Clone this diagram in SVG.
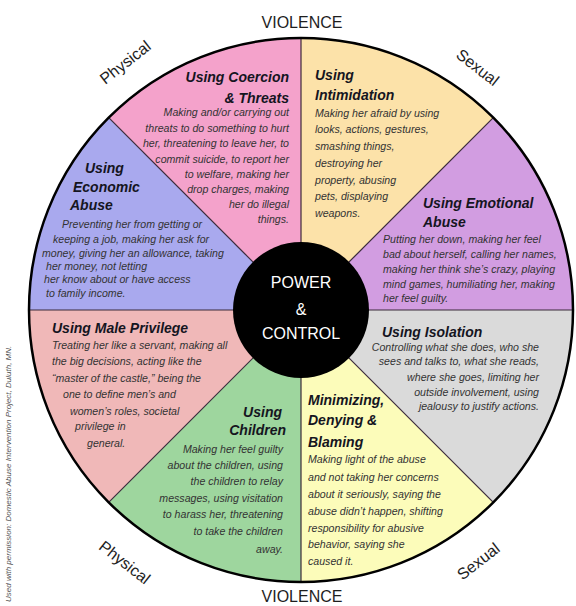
<svg xmlns="http://www.w3.org/2000/svg" width="576" height="606" viewBox="0 0 576 606">
<style>
.t{font-family:"Liberation Sans",Arial,sans-serif;font-size:14px;font-weight:bold;font-style:italic;fill:#15151f}
.b{font-family:"Liberation Sans",Arial,sans-serif;font-size:10.6px;font-style:italic;fill:#333}
.o{font-family:"Liberation Sans",Arial,sans-serif;font-size:16px;fill:#1e1e1e}
.c{font-family:"Liberation Sans",Arial,sans-serif;font-size:16px;fill:#fff;text-anchor:middle}
.e{text-anchor:end}
.div{stroke:#3b2b3b;stroke-width:1.2;fill:none}
</style>
<rect width="576" height="606" fill="#fff"/>
<g id="coercion">
<path d="M301 310 L108.67 117.67 A272 272 0 0 1 301 38 Z" fill="#F4A2CB"/>
<g class="e">
<text class="t" x="289" y="82">Using Coercion</text>
<text class="t" x="289" y="103">&amp; Threats</text>
<text class="b" x="289" y="116">Making and/or carrying out</text>
<text class="b" x="289" y="132">threats to do something to hurt</text>
<text class="b" x="289" y="147">her, threatening to leave her, to</text>
<text class="b" x="289" y="163">commit suicide, to report her</text>
<text class="b" x="289" y="178">to welfare, making her</text>
<text class="b" x="289" y="193">drop charges, making</text>
<text class="b" x="289" y="208">her do illegal</text>
<text class="b" x="289" y="223">things.</text>
</g>
</g>
<g id="intimidation">
<path d="M301 310 L301 38 A272 272 0 0 1 493.33 117.67 Z" fill="#FCE2A9"/>
<text class="t" x="315" y="80">Using</text>
<text class="t" x="315" y="100">Intimidation</text>
<text class="b" x="315" y="117">Making her afraid by using</text>
<text class="b" x="315" y="133">looks, actions, gestures,</text>
<text class="b" x="315" y="150">smashing things,</text>
<text class="b" x="315" y="167">destroying her</text>
<text class="b" x="315" y="184">property, abusing</text>
<text class="b" x="315" y="200">pets, displaying</text>
<text class="b" x="315" y="217">weapons.</text>
</g>
<g id="emotional">
<path d="M301 310 L493.33 117.67 A272 272 0 0 1 573 310 Z" fill="#D29DE1"/>
<text class="t" x="423" y="208">Using Emotional</text>
<text class="t" x="423" y="227">Abuse</text>
<text class="b" x="383" y="243">Putting her down, making her feel</text>
<text class="b" x="383" y="258">bad about herself, calling her names,</text>
<text class="b" x="383" y="273">making her think she’s crazy, playing</text>
<text class="b" x="383" y="288">mind games, humiliating her, making</text>
<text class="b" x="383" y="302">her feel guilty.</text>
</g>
<g id="isolation">
<path d="M301 310 L573 310 A272 272 0 0 1 493.33 502.33 Z" fill="#DADADA"/>
<text class="t" x="382" y="337">Using Isolation</text>
<g class="e">
<text class="b" x="539" y="351">Controlling what she does, who she</text>
<text class="b" x="539" y="365">sees and talks to, what she reads,</text>
<text class="b" x="539" y="381">where she goes, limiting her</text>
<text class="b" x="539" y="396">outside involvement, using</text>
<text class="b" x="539" y="410">jealousy to justify actions.</text>
</g>
</g>
<g id="minimizing">
<path d="M301 310 L493.33 502.33 A272 272 0 0 1 301 582 Z" fill="#FCFCBA"/>
<text class="t" x="308" y="405">Minimizing,</text>
<text class="t" x="308" y="425">Denying &amp;</text>
<text class="t" x="308" y="447">Blaming</text>
<text class="b" x="308" y="463">Making light of the abuse</text>
<text class="b" x="308" y="481">and not taking her concerns</text>
<text class="b" x="308" y="498">about it seriously, saying the</text>
<text class="b" x="308" y="515">abuse didn’t happen, shifting</text>
<text class="b" x="308" y="532">responsibility for abusive</text>
<text class="b" x="308" y="548">behavior, saying she</text>
<text class="b" x="308" y="565">caused it.</text>
</g>
<g id="children">
<path d="M301 310 L301 582 A272 272 0 0 1 108.67 502.33 Z" fill="#9ED69E"/>
<g class="e">
<text class="t" x="282" y="417">Using</text>
<text class="t" x="286" y="435">Children</text>
<text class="b" x="283" y="453">Making her feel guilty</text>
<text class="b" x="283" y="469">about the children, using</text>
<text class="b" x="283" y="485">the children to relay</text>
<text class="b" x="283" y="502">messages, using visitation</text>
<text class="b" x="283" y="518">to harass her, threatening</text>
<text class="b" x="283" y="535">to take the children</text>
<text class="b" x="283" y="553">away.</text>
</g>
</g>
<g id="male-privilege">
<path d="M301 310 L108.67 502.33 A272 272 0 0 1 29 310 Z" fill="#F0B8B8"/>
<text class="t" x="52" y="333">Using Male Privilege</text>
<text class="b" x="52" y="349">Treating her like a servant, making all</text>
<text class="b" x="52" y="365">the big decisions, acting like the</text>
<text class="b" x="52" y="382">“master of the castle,” being the</text>
<text class="b" x="63" y="398">one to define men’s and</text>
<text class="b" x="70" y="415">women’s roles, societal</text>
<text class="b" x="75" y="430">privilege in</text>
<text class="b" x="87" y="447">general.</text>
</g>
<g id="economic">
<path d="M301 310 L29 310 A272 272 0 0 1 108.67 117.67 Z" fill="#A9A9EE"/>
<text class="t" x="85" y="173">Using</text>
<text class="t" x="73" y="192">Economic</text>
<text class="t" x="70" y="210">Abuse</text>
<text class="b" x="62" y="228">Preventing her from getting or</text>
<text class="b" x="53" y="243">keeping a job, making her ask for</text>
<text class="b" x="42" y="257">money, giving her an allowance, taking</text>
<text class="b" x="46" y="270">her money, not letting</text>
<text class="b" x="44" y="283">her know about or have access</text>
<text class="b" x="46" y="297">to family income.</text>
</g>
<g id="connectors">
<line class="div" x1="301" y1="38" x2="301" y2="582"/>
<line class="div" x1="29" y1="310" x2="573" y2="310"/>
<line class="div" x1="108.67" y1="117.67" x2="493.33" y2="502.33"/>
<line class="div" x1="493.33" y1="117.67" x2="108.67" y2="502.33"/>
</g>
<circle cx="301" cy="310" r="272" fill="none" stroke="#000" stroke-width="2.5"/>
<g id="center">
<circle cx="301" cy="310" r="68" fill="#000"/>
<text class="c" x="301" y="288">POWER</text>
<text class="c" x="301" y="315">&amp;</text>
<text class="c" x="301" y="339">CONTROL</text>
</g>
<g id="outer-labels">
<text class="o" x="302" y="28" text-anchor="middle">VIOLENCE</text>
<text class="o" x="302" y="602" text-anchor="middle">VIOLENCE</text>
<text class="o" x="125" y="68" text-anchor="middle" transform="rotate(-38 125 62)">Physical</text>
<text class="o" x="478" y="73" text-anchor="middle" transform="rotate(38 478 67)">Sexual</text>
<text class="o" x="125" y="568" text-anchor="middle" transform="rotate(38 125 562)">Physical</text>
<text class="o" x="478" y="567" text-anchor="middle" transform="rotate(-38 478 561)">Sexual</text>
<text x="11" y="602" transform="rotate(-90 11 602)" style="font-family:'Liberation Sans',Arial,sans-serif;font-size:8px;font-style:italic;fill:#555">Used with permission: Domestic Abuse Intervention Project, Duluth, MN.</text>
</g>
</svg>
